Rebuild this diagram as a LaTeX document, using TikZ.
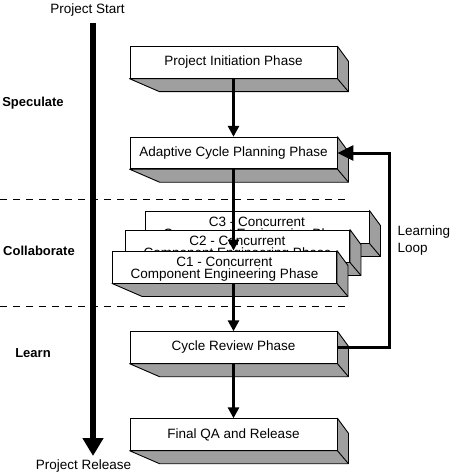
\documentclass[tikz,border=0pt]{standalone}
\usepackage{fontspec}
\setmainfont{Liberation Sans}
\usetikzlibrary{arrows.meta}

\begin{document}
\begin{tikzpicture}[
        x=1pt, y=-1pt,
        every node/.style={font=\fontsize{13.5}{12}\selectfont},
        phase/.style={rectangle, draw=black, line width=0.9pt, fill=white, minimum width=207pt, minimum height=31.5pt, inner sep=0pt, align=center,
            append after command={\pgfextra{
                \draw[line width=0.9pt, fill=gray!75, line join=round] (\tikzlastnode.south west) -- ++(30,13) -| ([shift={(11,15)}]\tikzlastnode.north east) -- (\tikzlastnode.north east) -- (\tikzlastnode.south east) -- cycle;
                \draw[line width=0.9pt] (\tikzlastnode.south east) -- ++(11,13);}}},
        concurrent/.style={phase, minimum width=224pt, minimum height=32pt, text height=23.5pt, text depth=0pt},
        stage/.style={font=\fontsize{13}{15}\selectfont\bfseries},
        divider/.style={dashed, line width=1pt, dash pattern=on 7pt off 6pt},
        timeline/.style={line width=5.5pt, -{Triangle[width=20pt,length=18pt]}},
        flow/.style={line width=3pt, -{Triangle[width=11pt,length=11pt]}},
        feedback/.style={line width=3pt, -{Triangle[width=15pt,length=16pt]}}
        ]
        \useasboundingbox (0,0) rectangle (450,476);

        % Phase dividers
        \draw[divider] (0,199) -- (347,199);
        \draw[divider] (0,306) -- (347,306);

        % Project timeline
        \node (start) at (87.5,10) {Project Start};
        \node (release) at (83.5,466) {Project Release};
        \coordinate (t0) at (93,23);
        \coordinate (t1) at (93,456);
        \draw[timeline] (t0) -- (t1);

        % Stage labels
        \node[stage] (speculate) at (33,103) {Speculate};
        \node[stage] (collaborate) at (39,251) {Collaborate};
        \node[stage] (learn) at (33,353) {Learn};

        % Phases
        \node[phase] (init) at (233.5,62.5) {Project Initiation Phase};
        \node[phase] (plan) at (233.5,153) {Adaptive Cycle Planning Phase};
        \node[concurrent] (c3) at (257,227) {C3 - Concurrent\\Component Engineering Phase};
        \node[concurrent] (c2) at (237.5,246) {C2 - Concurrent\\Component Engineering Phase};
        \node[concurrent] (c1) at (224.5,267) {C1 - Concurrent\\Component Engineering Phase};
        \node[phase] (review) at (233.5,347.5) {Cycle Review Phase};
        \node[phase] (final) at (233.5,434.5) {Final QA and Release};

        % Flow between phases
        \draw[flow] (init.south) -- (plan.north);
        \draw[flow] (plan.south) -- (plan.south |- c1.north);
        \draw[flow] (review.north |- c1.south) -- (review.north);
        \draw[flow] (review.south) -- (final.north);

        % Learning loop
        \coordinate (turn) at (389,153);
        \draw[feedback] (review.east) -| (turn) -- (plan.east);
        \node[anchor=west, align=left, font=\fontsize{13.5}{17}\selectfont] (looplabel) at (394,241) {Learning\\Loop};

    \end{tikzpicture}
\end{document}
